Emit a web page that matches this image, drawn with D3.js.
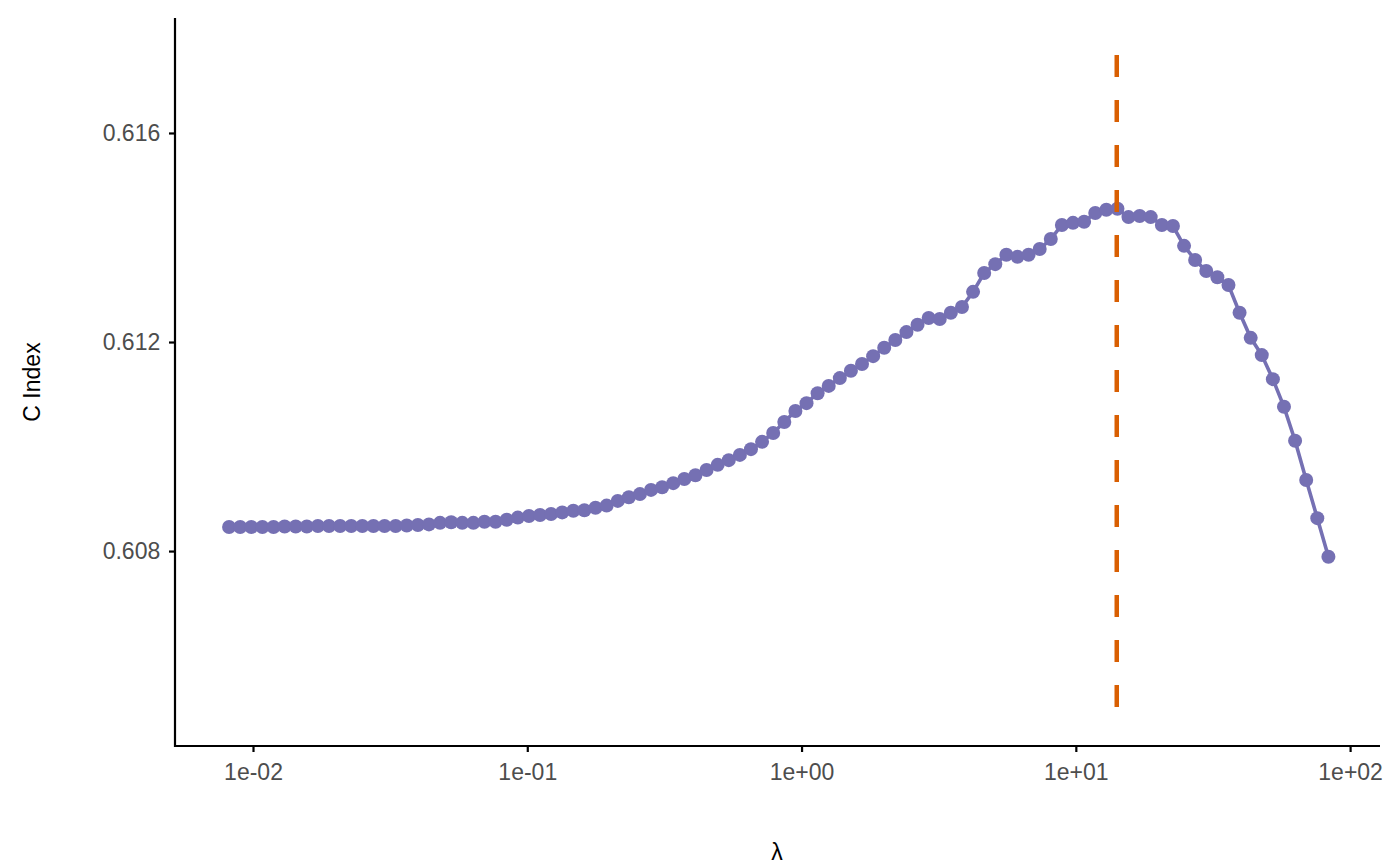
<!DOCTYPE html>
<html><head><meta charset="utf-8">
<script src="https://cdn.jsdelivr.net/npm/d3@7"></script>
<style>body{margin:0;background:#fff} text{font-family:Arial,"Liberation Sans",sans-serif}</style></head>
<body><svg id="c" width="1400" height="865"></svg>
<script>
const lambdas = [
0.00818,0.00898,0.00986,0.01082,0.01188,0.01304,0.01431,0.01571,0.01724,0.01893,
0.02078,0.02281,0.02504,0.02748,0.03017,0.03312,0.03636,0.03991,0.04380,0.04808,
0.05278,0.05794,0.06360,0.06981,0.07663,0.08412,0.09235,0.1014,0.1113,0.1221,
0.1341,0.1472,0.1615,0.1773,0.1947,0.2137,0.2346,0.2575,0.2826,0.3102,
0.3406,0.3738,0.4103,0.4505,0.4945,0.5428,0.5958,0.6540,0.7179,0.7881,
0.8651,0.9497,1.0424,1.1443,1.2561,1.3788,1.5135,1.6614,1.8237,2.0018,
2.197,2.412,2.648,2.907,3.191,3.502,3.845,4.220,4.633,5.085,
5.581,6.127,6.726,7.383,8.104,8.896,9.765,10.72,11.77,12.92,
14.18,15.56,17.09,18.75,20.59,22.60,24.81,27.23,29.89,32.81,
36.02,39.54,43.40,47.64,52.29,57.40,63.01,69.17,75.93,83.35];
const cindex = [
0.60846,0.60846,0.60846,0.60846,0.60846,0.60847,0.60847,0.60847,0.60848,0.60848,
0.60848,0.60848,0.60848,0.60848,0.60848,0.60848,0.60849,0.60850,0.60851,0.60854,
0.60855,0.60854,0.60854,0.60856,0.60856,0.60860,0.60864,0.60867,0.60869,0.60871,
0.60874,0.60877,0.60878,0.60883,0.60887,0.60896,0.60903,0.60909,0.60917,0.60922,
0.60930,0.60938,0.60945,0.60955,0.60965,0.60974,0.60984,0.60995,0.61009,0.61026,
0.61047,0.61068,0.61083,0.61102,0.61116,0.61131,0.61145,0.61158,0.61173,0.61189,
0.61204,0.61219,0.61233,0.61246,0.61244,0.61256,0.61267,0.61296,0.61332,0.61349,
0.61367,0.61363,0.61367,0.61378,0.61397,0.61424,0.61428,0.61430,0.61447,0.61453,
0.61455,0.61439,0.61441,0.61439,0.61424,0.61422,0.61384,0.61357,0.61336,0.61324,
0.61309,0.61256,0.61208,0.61175,0.61129,0.61076,0.61011,0.60936,0.60863,0.60789];
const bestLambda = 14.1;
const xTicks = [0.01,0.1,1,10,100];
const xTickLabels = ["1e-02","1e-01","1e+00","1e+01","1e+02"];
const yTicks = [0.608,0.612,0.616];
const yTickLabels = ["0.608","0.612","0.616"];

const svg = d3.select("#c");
const L=175,R=1380,T=18,B=746;
const x = d3.scaleLog().domain([Math.pow(10,-2.2844),Math.pow(10,2.109)]).range([L,R]);
const y = d3.scaleLinear().domain([0.60427,0.6182]).range([B,T]);

const xa = svg.append("g").attr("transform",`translate(0,${B})`)
  .call(d3.axisBottom(x).tickValues(xTicks).tickFormat((d,i)=>xTickLabels[i]).tickSizeOuter(0).tickSize(6));
const ya = svg.append("g").attr("transform",`translate(${L},0)`)
  .call(d3.axisLeft(y).tickValues(yTicks).tickFormat((d,i)=>yTickLabels[i]).tickSizeOuter(0).tickSize(6));
[xa,ya].forEach(a=>{
  a.attr("font-size",null).attr("font-family",null);
  a.select(".domain").remove();
  a.selectAll(".tick line").attr("stroke","#000").attr("stroke-width",2.2);
  a.selectAll(".tick text").attr("fill","#4d4d4d").style("font-size","23px");
});
xa.selectAll(".tick text").attr("dy","1.1em");
ya.selectAll(".tick text").attr("dx","-0.25em");
svg.append("line").attr("x1",L).attr("x2",R).attr("y1",B).attr("y2",B).attr("stroke","#000").attr("stroke-width",2.2);
svg.append("line").attr("x1",L).attr("x2",L).attr("y1",T).attr("y2",B+1).attr("stroke","#000").attr("stroke-width",2.2);

svg.append("path").datum(lambdas.map((l,i)=>[l,cindex[i]]))
  .attr("fill","none").attr("stroke","#7570b3").attr("stroke-width",3.6)
  .attr("d",d3.line().x(d=>x(d[0])).y(d=>y(d[1])));
svg.selectAll("circle.p").data(lambdas).enter().append("circle")
  .attr("cx",d=>x(d)).attr("cy",(d,i)=>y(cindex[i])).attr("r",7).attr("fill","#7570b3");

svg.append("line").attr("x1",x(bestLambda)).attr("x2",x(bestLambda))
  .attr("y1",55).attr("y2",716).attr("stroke","#d95f02").attr("stroke-width",4.5)
  .attr("stroke-dasharray","22,23");

svg.append("text").attr("transform","translate(40,382) rotate(-90)").attr("text-anchor","middle")
  .style("font-size","23px").attr("fill","#000").text("C Index");
svg.append("text").attr("x",777).attr("y",860).attr("text-anchor","middle")
  .style("font-size","23px").attr("fill","#000").text("λ");
</script></body></html>
